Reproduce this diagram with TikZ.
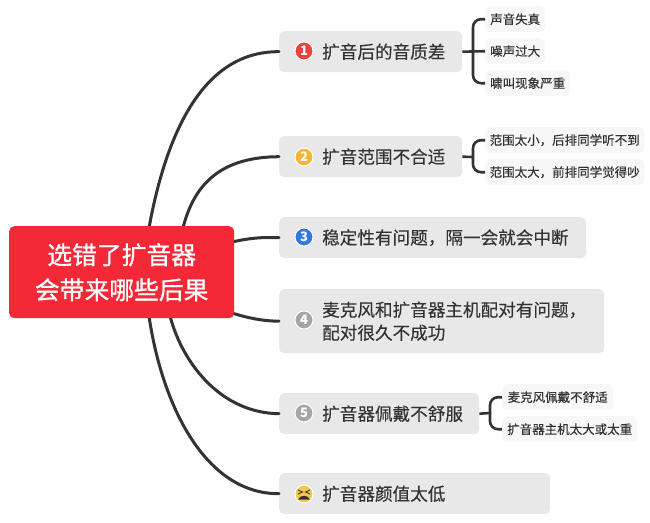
\documentclass[tikz,border=0pt]{standalone}
\usepackage{fontspec}
\setmainfont{Noto Sans CJK SC}
\newfontfamily\medfont[RawFeature={embolden=0.3}]{Noto Sans CJK SC}
\newfontfamily\rootfont[RawFeature={embolden=0.9}]{Noto Sans CJK SC}
\usetikzlibrary{calc}
\definecolor{inkc}{HTML}{333333}
\definecolor{topicfill}{HTML}{E8E8E8}
\definecolor{subfill}{HTML}{F7F7F7}
\definecolor{rootred}{HTML}{F42837}
\definecolor{icona}{HTML}{EC4040}
\definecolor{iconb}{HTML}{F5B432}
\definecolor{iconc}{HTML}{3278E1}
\definecolor{icond}{HTML}{A5A5A5}
\definecolor{icone}{HTML}{F7C850}
\newcommand{\ind}{\hspace*{43pt}}
\tikzset{
  x=1pt,y=-1pt,
  rootbox/.style={fill=rootred,rounded corners=5pt,text=white,inner sep=0pt,minimum width=225pt,minimum height=92pt,align=center,anchor=north west,font=\fontsize{24.8pt}{35pt}\rootfont},
  topic/.style={fill=topicfill,rounded corners=5pt,text=inkc,inner xsep=0pt,inner ysep=0pt,text width=#1,minimum height=41pt,align=left,anchor=north west,font=\fontsize{17.6pt}{23pt}\medfont},
  subbox/.style={fill=subfill,rounded corners=5pt,text=inkc,inner sep=0pt,minimum width=#1,minimum height=26pt,align=center,anchor=north west,font=\fontsize{12.5pt}{15pt}\medfont},
  branch/.style={draw=inkc,line width=3pt,line cap=round},
  bracket/.style={draw=inkc,line width=2.6pt,rounded corners=8pt},
  icon/.style={circle,draw=white,line width=1pt,fill=#1,text=white,inner sep=0pt,minimum size=18pt,font=\fontsize{13pt}{13pt}\selectfont\bfseries},
}
\begin{document}
\begin{tikzpicture}
\useasboundingbox (0,0) rectangle (650,522);
\fill[white] (0,0) rectangle (650,522);
\coordinate (rn1) at (149,228);
\coordinate (rn2) at (183,228);
\coordinate (re3) at (232,242);
\coordinate (re4) at (232,313);
\coordinate (rs5) at (170,316);
\coordinate (rs6) at (149,316);
\node[topic=183pt] (t1) at (279,31) {\ind 扩音后的音质差};
\node[topic=183pt] (t2) at (279,136) {\ind 扩音范围不合适};
\node[topic=307pt] (t3) at (279,217) {\ind 稳定性有问题，隔一会就会中断};
\node[topic=325pt,minimum height=64pt] (t4) at (279,289) {\ind 麦克风和扩音器主机配对有问题，\\\ind 配对很久不成功};
\node[topic=200pt] (t5) at (279,393) {\ind 扩音器佩戴不舒服};
\node[topic=271pt] (t6) at (279,473) {\ind 扩音器颜值太低};
\draw[branch] (rn1) .. controls (165,140) and (200,51) .. (t1.west);
\draw[branch] (rn2) .. controls (195,180) and (225,157) .. (t2.west);
\draw[branch] (re3) .. controls (250,238) and (262,237) .. (t3.west);
\draw[branch] (re4) .. controls (248,318) and (262,321) .. (t4.west);
\draw[branch] (rs5) .. controls (183,365) and (222,413) .. (t5.west);
\draw[branch] (rs6) .. controls (162,405) and (205,494) .. (t6.west);
\node[rootbox] (root) at (9,226) {选错了扩音器\\会带来哪些后果};
\node[subbox=60pt] (s11) at (485,6) {声音失真};
\node[subbox=60pt] (s12) at (485,38) {噪声过大};
\node[subbox=85pt] (s13) at (485,70) {啸叫现象严重};
\node[subbox=159pt] (s21) at (485,127) {范围太小，后排同学听不到};
\node[subbox=159pt] (s22) at (485,159) {范围太大，前排同学觉得吵};
\node[subbox=111pt] (s51) at (502,384) {麦克风佩戴不舒适};
\node[subbox=135pt] (s52) at (502,416) {扩音器主机太大或太重};
\coordinate (j1) at (473,51);
\coordinate (j2) at (473,157);
\coordinate (j5) at (490,413);
\draw[bracket] (s11.west) -- (s11.west -| j1) -- (s13.west -| j1) -- (s13.west);
\draw[bracket] (t1.east) -- (s12.west);
\draw[bracket] (s21.west) -- (s21.west -| j2) -- (s22.west -| j2) -- (s22.west);
\draw[bracket] (t2.east) -- (j2);
\draw[bracket] (s51.west) -- (s51.west -| j5) -- (s52.west -| j5) -- (s52.west);
\draw[bracket] (t5.east) -- (j5);
\node[icon=icona] (i1) at (304,51) {1};
\node[icon=iconb] (i2) at (304,157) {2};
\node[icon=iconc] (i3) at (304,237) {3};
\node[icon=icond] (i4) at (304,320) {4};
\node[icon=icond] (i5) at (304,413) {5};
\node[icon=icone] (i6) at (304,494) {};
\draw[inkc,line width=0.9pt] ($(i6)+(-6,-4)$) -- ($(i6)+(-1.5,-2)$) -- ($(i6)+(-6,0)$);
\draw[inkc,line width=0.9pt] ($(i6)+(6,-4)$) -- ($(i6)+(1.5,-2)$) -- ($(i6)+(6,0)$);
\fill[inkc] ($(i6)+(-6,5.5)$) .. controls ($(i6)+(-4,0.5)$) and ($(i6)+(4,0.5)$) .. ($(i6)+(6,5.5)$) -- cycle;
\end{tikzpicture}
\end{document}
